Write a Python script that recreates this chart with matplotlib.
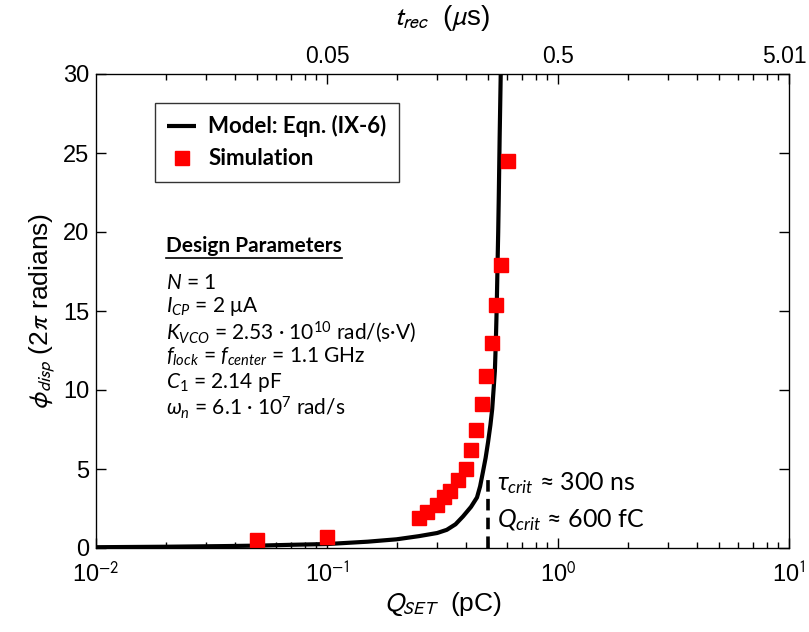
import matplotlib
matplotlib.use("Agg")
import matplotlib.pyplot as plt
import matplotlib.transforms as mtransforms
from matplotlib.lines import Line2D
from matplotlib.ticker import LogLocator, NullFormatter, FixedLocator

plt.rcParams['mathtext.fontset'] = 'custom'
plt.rcParams['mathtext.rm'] = 'Lato'
plt.rcParams['mathtext.it'] = 'Lato:italic'
plt.rcParams['mathtext.bf'] = 'Lato:bold'
plt.rcParams['mathtext.fallback'] = 'stixsans'

# Model curve, Eqn. (IX-6): displacement vs. set charge
model_q = [0.01, 0.02, 0.0355, 0.05, 0.069, 0.1, 0.15, 0.2, 0.25, 0.3, 0.33,
           0.36, 0.388, 0.42, 0.446, 0.46, 0.473, 0.486, 0.498, 0.51, 0.519,
           0.526, 0.533, 0.538, 0.543, 0.548, 0.551, 0.554, 0.559, 0.562, 0.565]
model_phi = [0.05, 0.08, 0.12, 0.15, 0.2, 0.25, 0.4, 0.55, 0.75, 0.95, 1.15,
             1.5, 2.0, 2.6, 3.2, 3.9, 4.8, 5.7, 6.7, 7.8, 8.8,
             10.0, 11.2, 13.0, 15.3, 18.3, 20.0, 22.1, 26.0, 28.0, 30.0]

# Simulation results
sim_q = [0.05, 0.1, 0.25, 0.27, 0.30, 0.32, 0.34, 0.37, 0.40, 0.42, 0.44,
         0.47, 0.49, 0.52, 0.54, 0.565, 0.61]
sim_phi = [0.5, 0.7, 1.9, 2.3, 2.7, 3.2, 3.6, 4.3, 5.0, 6.2, 7.5,
           9.1, 10.9, 13.0, 15.4, 17.9, 24.5]

q_crit = 0.5
q_crit_marker_top = 4.3

x_ticks = [1e-2, 1e-1, 1e0, 1e1]
x_tick_labels = ['10$^{-2}$', '10$^{-1}$', '10$^{0}$', '10$^{1}$']
y_ticks = [0, 5, 10, 15, 20, 25, 30]
top_ticks = [1e-1, 1e0, 1e1]
top_tick_labels = ['0.05', '0.5', '5.01']

W, H = 809, 632
fig = plt.figure(figsize=(W / 100, H / 100), dpi=100)
L, R, B, T = 96, 789, 548, 74
ax = fig.add_axes([L / W, 1 - B / H, (R - L) / W, (B - T) / H])

ax.plot(model_q, model_phi, color='black', lw=3, solid_capstyle='butt',
        solid_joinstyle='round', label='Model: Eqn. (IX-6)', zorder=3)
ax.plot(sim_q, sim_phi, ls='none', marker='s', ms=10, mfc='red', mec='red',
        label='Simulation', zorder=4)
ax.plot([q_crit, q_crit], [0, q_crit_marker_top], color='black', lw=2.6,
        dashes=(3.2, 2.0), zorder=3)

ax.set_xscale('log')
ax.set_xlim(1e-2, 1e1)
ax.set_ylim(0, 30)
ax.xaxis.set_major_locator(FixedLocator(x_ticks))
ax.set_xticklabels(x_tick_labels)
ax.xaxis.set_minor_locator(LogLocator(base=10, subs=range(2, 10), numticks=50))
ax.xaxis.set_minor_formatter(NullFormatter())
ax.set_yticks(y_ticks)
ax.set_yticklabels([str(v) for v in y_ticks])

for lab in ax.get_xticklabels() + ax.get_yticklabels():
    lab.set_fontfamily('Liberation Sans')
    lab.set_fontsize(17)
    lab.set_math_fontfamily('stixsans')

ax.tick_params(which='both', direction='in', top=False, right=True,
               width=1.0, colors='black')
ax.tick_params(axis='x', which='major', length=7, pad=10)
ax.tick_params(axis='y', which='major', length=7, pad=5)
ax.tick_params(which='minor', length=4.5, width=1.0)
for s in ax.spines.values():
    s.set_linewidth(0.9)

# top axis: recovery time, sharing the charge axis decades
ax2 = ax.twiny()
ax2.set_xscale('log')
ax2.set_xlim(1e-2, 1e1)
ax2.xaxis.set_major_locator(FixedLocator(top_ticks))
ax2.xaxis.set_major_formatter(NullFormatter())
ax2.xaxis.set_minor_locator(LogLocator(base=10, subs=range(2, 10), numticks=50))
ax2.xaxis.set_minor_formatter(NullFormatter())
ax2.tick_params(which='both', direction='in', width=1.0)
ax2.tick_params(which='major', length=7)
ax2.tick_params(which='minor', length=4.5)

top_trans = mtransforms.blended_transform_factory(ax2.transData, ax2.transAxes)
for i, (q, s) in enumerate(zip(top_ticks, top_tick_labels)):
    last = i == len(top_ticks) - 1
    off = mtransforms.ScaledTranslation(-5 / 100 if last else 0, 6 / 100,
                                        fig.dpi_scale_trans)
    ax2.text(q, 1.0, s, transform=top_trans + off, ha='center', va='bottom',
             fontfamily='Liberation Sans', fontsize=16.5, clip_on=False)

ax.set_xlabel(r'$Q_{SET}$  (pC)', fontfamily='Liberation Sans', fontsize=19,
              math_fontfamily='stixsans', labelpad=2)
ax2.set_xlabel(r'$t_{rec}$  ($\mu$s)', fontfamily='Liberation Sans',
               fontsize=20, math_fontfamily='stixsans', labelpad=32)
ax.set_ylabel(r'$\phi_{disp}$ (2$\pi$ radians)', fontfamily='Liberation Sans',
              fontsize=19, math_fontfamily='stixsans', labelpad=4)

leg = ax.legend(loc='upper left', bbox_to_anchor=((155 - L) / (R - L), (B - 103) / (B - T)),
                borderaxespad=0, frameon=True, fancybox=False, handlelength=1.3,
                handletextpad=0.55, borderpad=0.55, labelspacing=0.5,
                prop=dict(family=['Lato', 'DejaVu Sans'], weight='bold', size=16))
leg.get_frame().set_edgecolor('black')
leg.get_frame().set_linewidth(1.0)


def fx(px):
    return px / W


def fy(py):
    return 1 - py / H


txt_font = dict(family=['Lato', 'DejaVu Sans'], size=15)
title = fig.text(fx(166), fy(246), 'Design Parameters', va='center',
                 weight='bold', **txt_font)
params = [
    (283, r'$N$ = 1'),
    (307, r'$I_{CP}$ = 2 μA'),
    (332, r'$K_{VCO}$ = 2.53 · 10$^{10}$ rad/(s·V)'),
    (357, r'$f_{lock}$ = $f_{center}$ = 1.1 GHz'),
    (383, r'$C_{\mathit{1}}$ = 2.14 pF'),
    (408, r'$\omega_n$ = 6.1 · 10$^{7}$ rad/s'),
]
for py, s in params:
    fig.text(fx(166), fy(py), s, va='center', **txt_font)

crit_font = dict(family=['Lato', 'DejaVu Sans'], size=18)
fig.text(fx(497), fy(483), r'$\tau_{crit}$ ≈ 300 ns', va='center', **crit_font)
fig.text(fx(497), fy(520), r'$Q_{crit}$ ≈ 600 fC', va='center', **crit_font)

# underline the parameter heading
fig.canvas.draw()
bb = title.get_window_extent()
fig.add_artist(Line2D([bb.x0 / W, bb.x1 / W], [(bb.y0 - 1.5) / H, (bb.y0 - 1.5) / H],
                      color='black', lw=1.2, transform=fig.transFigure))

fig.savefig('out.png', dpi=100)
